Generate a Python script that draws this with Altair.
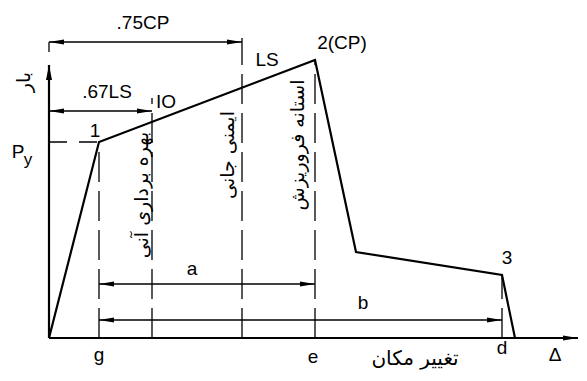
import altair as alt
import pandas as pd

# ---- data (chart units: displacement to the right, load upwards) ----
curve_x = [0, 50, 266, 307, 453, 466]
curve_y = [0, 196, 278, 86, 63, 0]

level_names = ["g", "IO", "LS", "e", "d"]
level_x = [50, 103, 193, 266, 453]
level_top = [196, 240, 300, 278, 63]

py_value = 196

dim_names = [".75CP", ".67LS", "a", "b"]
dim_y = [296, 227, 54, 18]
dim_x1 = [0, 0, 50, 50]
dim_x2 = [193, 103, 266, 453]
dim_tick_x = [0]
dim_tick_y1 = [286]
dim_tick_y2 = [296]

axis_x_end = 529
axis_y_end = 273

point_labels = [".75CP", ".67LS", "IO", "1", "LS", "2(CP)", "3", "a", "b", "g", "e", "d", "Δ", "P"]
point_label_x = [94, 58, 117, 46, 218, 293, 458, 143, 314, 50, 264, 453, 506, -31]
point_label_y = [315, 246, 236, 207, 278, 295, 80, 69, 35, -17, -19, -10, -17, 186]

sub_labels = ["y"]
sub_label_x = [-21]
sub_label_y = [178]

vert_labels = ["بهره برداری آنی", "ایمنی جانی", "استانه فروریزش", "بار"]
vert_label_x = [93, 179, 249, -25]
vert_label_y = [143, 183, 193, 256]

x_title = ["تغییر مکان"]
x_title_x = [366]
x_title_y = [-21]

# ---- tables ----
curve = pd.DataFrame({"x": curve_x, "y": curve_y, "i": range(len(curve_x))})
levels = pd.DataFrame({"name": level_names, "x": level_x, "y": [0] * len(level_x), "y2": level_top})
pyline = pd.DataFrame({"x": [0], "x2": [curve_x[1]], "y": [py_value]})
dims = pd.DataFrame({"name": dim_names, "x": dim_x1, "x2": dim_x2, "y": dim_y})
ticks = pd.DataFrame({"x": dim_tick_x, "y": dim_tick_y1, "y2": dim_tick_y2})
axes = pd.DataFrame({"x": [0, 0], "y": [0, 0], "x2": [axis_x_end, 0], "y2": [0, axis_y_end]})
heads = pd.DataFrame({
    "x": dim_x1 + dim_x2 + [0, axis_x_end],
    "y": dim_y + dim_y + [axis_y_end, 0],
    "dir": ["L"] * len(dim_x1) + ["R"] * len(dim_x2) + ["U", "R"],
})
plabels = pd.DataFrame({"t": point_labels, "x": point_label_x, "y": point_label_y})
slabels = pd.DataFrame({"t": sub_labels, "x": sub_label_x, "y": sub_label_y})
vlabels = pd.DataFrame({"t": vert_labels, "x": vert_label_x, "y": vert_label_y})
xtitle = pd.DataFrame({"t": x_title, "x": x_title_x, "y": x_title_y})

xs = alt.Scale(domain=[-41, 530], nice=False, zero=False)
ys = alt.Scale(domain=[-35, 330], nice=False, zero=False)
X = lambda f="x": alt.X(f"{f}:Q", scale=xs, axis=None)
Y = lambda f="y": alt.Y(f"{f}:Q", scale=ys, axis=None)

black = "#000000"

axis_layer = alt.Chart(axes).mark_rule(color=black, strokeWidth=2.2).encode(
    x=X(), y=Y(), x2="x2:Q", y2="y2:Q")

curve_layer = alt.Chart(curve).mark_line(color=black, strokeWidth=2.2, strokeJoin="miter").encode(
    x=X(), y=Y(), order="i:Q")

level_layer = alt.Chart(levels).mark_rule(color=black, strokeWidth=1.3, strokeDash=[30, 9]).encode(
    x=X(), y=Y(), y2="y2:Q")

py_layer = alt.Chart(pyline).mark_rule(color=black, strokeWidth=1.3, strokeDash=[18, 12]).encode(
    x=X(), x2="x2:Q", y=Y())

dim_layer = alt.Chart(dims).mark_rule(color=black, strokeWidth=1.3).encode(
    x=X(), x2="x2:Q", y=Y())

tick_layer = alt.Chart(ticks).mark_rule(color=black, strokeWidth=1.3).encode(
    x=X(), y=Y(), y2="y2:Q")

path_R = "M0,0 L-1,-0.17 L-1,0.17 Z"
path_L = "M0,0 L1,-0.17 L1,0.17 Z"
path_U = "M0,0 L-0.2,1 L0.2,1 Z"
head_layer = alt.Chart(heads).mark_point(filled=True, color=black, opacity=1, size=900, strokeWidth=0).encode(
    x=X(), y=Y(),
    shape=alt.Shape("dir:N", scale=alt.Scale(domain=["L", "R", "U"], range=[path_L, path_R, path_U]), legend=None))

plabel_layer = alt.Chart(plabels).mark_text(font="Liberation Sans", fontSize=19, color=black,
                                             align="center", baseline="middle").encode(
    x=X(), y=Y(), text="t:N")

slabel_layer = alt.Chart(slabels).mark_text(font="Liberation Sans", fontSize=17, color=black,
                                             align="center", baseline="middle").encode(
    x=X(), y=Y(), text="t:N")

vlabel_layer = alt.Chart(vlabels).mark_text(font="DejaVu Sans", fontSize=19, color=black, angle=270,
                                             align="center", baseline="middle").encode(
    x=X(), y=Y(), text="t:N")

xtitle_layer = alt.Chart(xtitle).mark_text(font="DejaVu Sans", fontSize=20, color=black,
                                            align="center", baseline="middle").encode(
    x=X(), y=Y(), text="t:N")

chart = alt.layer(
    level_layer, py_layer, dim_layer, tick_layer, axis_layer, curve_layer, head_layer,
    plabel_layer, slabel_layer, vlabel_layer, xtitle_layer,
).properties(
    width=571, height=365, autosize="none", padding=0, background="white"
).configure_view(stroke=None)

chart.save("out.html", embed_options={"renderer": "svg", "actions": False})
